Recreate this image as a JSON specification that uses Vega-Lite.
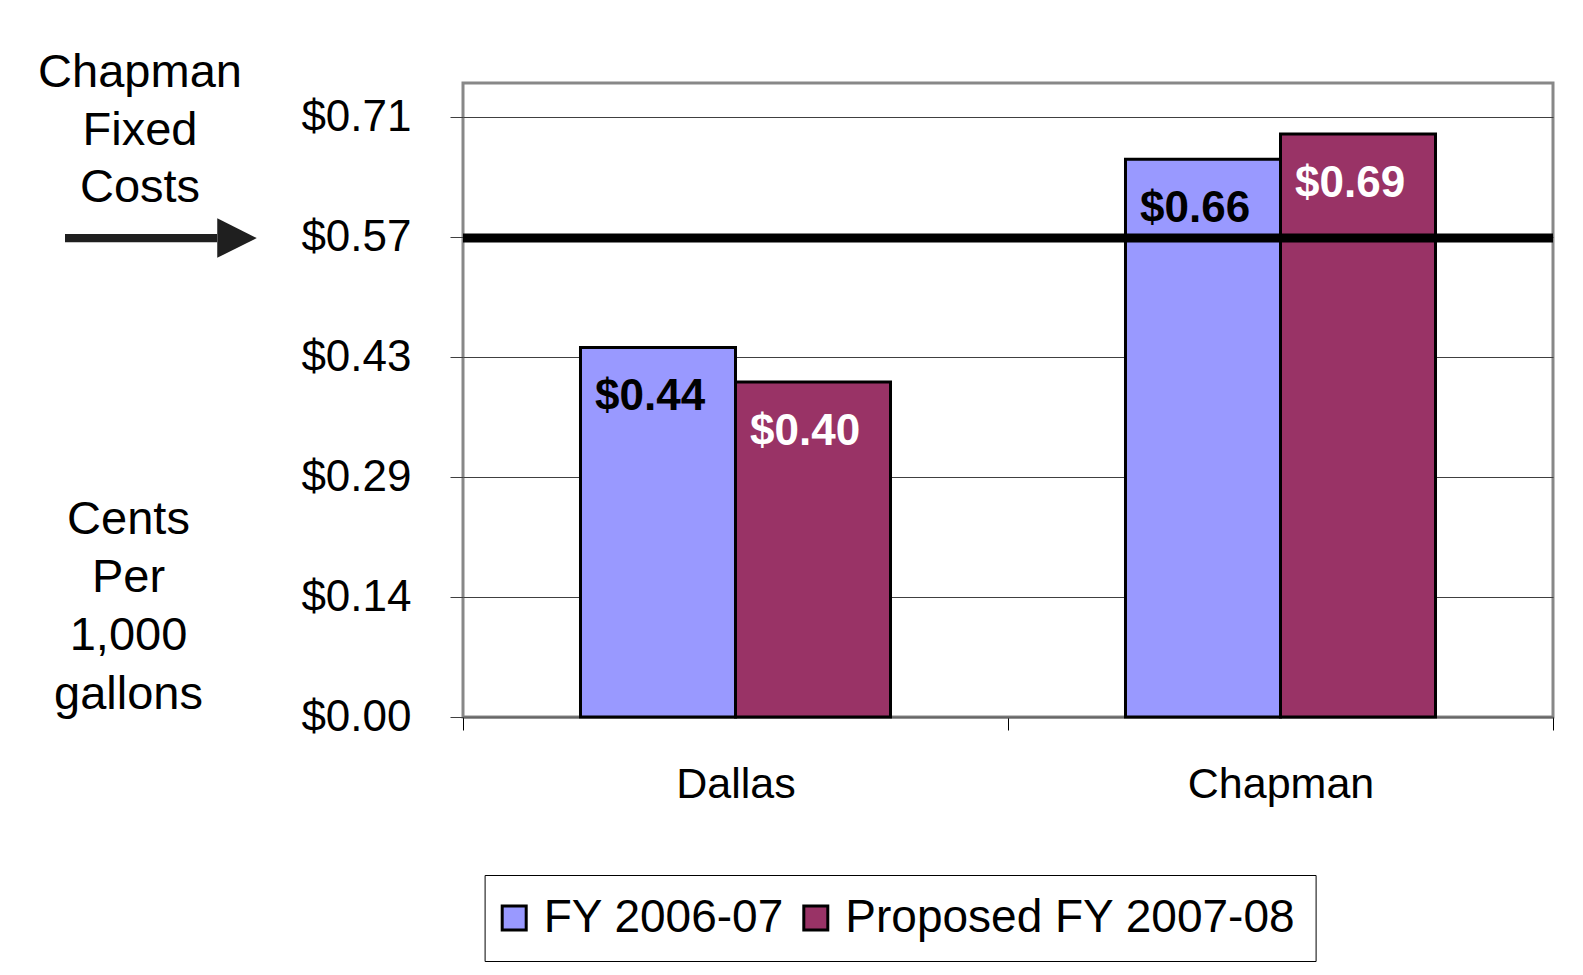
{
  "$schema": "https://vega.github.io/schema/vega-lite/v6.json",
  "background": "white",
  "padding": {"left": 0, "top": 49, "right": 28, "bottom": 10},
  "autosize": {"type": "pad"},
  "bounds": "flush",
  "spacing": 0,
  "config": {"font": "Liberation Sans", "view": {"stroke": null}},
  "datasets": {
    "costs": [
      {"city": "Dallas", "series": "FY 2006-07", "value": 0.439},
      {"city": "Dallas", "series": "Proposed FY 2007-08", "value": 0.398},
      {"city": "Chapman", "series": "FY 2006-07", "value": 0.6626},
      {"city": "Chapman", "series": "Proposed FY 2007-08", "value": 0.6927}
    ]
  },
  "hconcat": [
    {
      "width": 463,
      "height": 634,
      "view": {"fill": "white", "stroke": null},
      "data": {"values": [{"value": 0.569}]},
      "encoding": {
        "y": {"field": "value", "type": "quantitative", "scale": {"domain": [0, 0.7532], "nice": false}, "axis": null}
      },
      "layer": [
        {
          "mark": {"type": "rule", "color": "#1f1f1f", "strokeWidth": 8.3},
          "encoding": {
            "x": {"datum": 0.1404, "type": "quantitative", "scale": {"domain": [0, 1], "nice": false}, "axis": null},
            "x2": {"datum": 0.4687}
          }
        },
        {
          "mark": {"type": "point", "shape": "M-1,-1L1,0L-1,1Z", "size": 1560, "filled": true, "color": "#1f1f1f", "opacity": 1},
          "encoding": {"x": {"datum": 0.5119, "type": "quantitative"}}
        },
        {
          "mark": {"type": "text", "text": ["Chapman", "Fixed", "Costs"], "fontSize": 47, "lineHeight": 57.3, "align": "center", "baseline": "alphabetic", "color": "black"},
          "encoding": {
            "x": {"datum": 0.3024, "type": "quantitative"},
            "y": {"datum": 0.7481, "type": "quantitative"}
          }
        }
      ]
    },
    {
      "width": 1090,
      "height": 634,
      "view": {"stroke": "#888888", "strokeWidth": 3},
      "data": {"name": "costs"},
      "layer": [
        {
          "mark": {"type": "bar", "stroke": "black", "strokeWidth": 3},
          "encoding": {
            "x": {
              "field": "city", "type": "nominal",
              "scale": {"domain": ["Dallas", "Chapman"], "paddingInner": 0, "paddingOuter": 0},
              "axis": {
                "title": null, "labelAngle": 0, "labelFontSize": 43, "labelColor": "black",
                "labelPadding": 67, "labelBaseline": "alphabetic", "labelLimit": 500,
                "tickSize": 13, "tickBand": "extent", "tickColor": "black",
                "domainColor": "#666666", "domainWidth": 2
              }
            },
            "xOffset": {"field": "series", "type": "nominal", "scale": {"paddingInner": 0, "paddingOuter": 0.758}},
            "y": {
              "field": "value", "type": "quantitative",
              "scale": {"domain": [0, 0.7532], "nice": false},
              "axis": {
                "values": [0, 0.1425, 0.2851, 0.4275, 0.57, 0.7125],
                "format": "$.2f",
                "grid": true, "gridColor": "#404040", "gridWidth": 1,
                "domain": false, "tickSize": 13, "tickColor": "#404040",
                "labelFontSize": 44, "labelColor": "black", "labelPadding": 39,
                "title": ["Cents", "Per", "1,000", "gallons"],
                "titleAngle": 0, "titleFontSize": 47, "titleFontWeight": "normal",
                "titleAlign": "center", "titleBaseline": "alphabetic",
                "titleX": -335, "titleY": 450.3, "titleLineHeight": 58.3, "titleColor": "black"
              }
            },
            "fill": {
              "field": "series", "type": "nominal",
              "scale": {"domain": ["FY 2006-07", "Proposed FY 2007-08"], "range": ["#9999FF", "#993366"]},
              "legend": {
                "orient": "none", "legendX": 484.6, "legendY": 792, "direction": "horizontal",
                "title": null, "fillColor": "white", "strokeColor": "black", "padding": 20,
                "cornerRadius": 0, "symbolType": "square", "symbolSize": 576,
                "symbolStrokeColor": "black", "symbolStrokeWidth": 3, "symbolOpacity": 1,
                "symbolOffset": -13.4,
                "labelFontSize": 46, "labelColor": "black", "labelOffset": 6.5,
                "columnPadding": 12.6, "labelLimit": 800
              }
            }
          }
        },
        {
          "data": {"values": [{"value": 0.569}]},
          "mark": {"type": "rule", "color": "black", "strokeWidth": 9},
          "encoding": {"y": {"field": "value", "type": "quantitative"}}
        },
        {
          "mark": {"type": "text", "align": "left", "baseline": "alphabetic", "dx": -63, "dy": 63, "fontSize": 44, "fontWeight": "bold"},
          "encoding": {
            "x": {"field": "city", "type": "nominal"},
            "xOffset": {"field": "series", "type": "nominal"},
            "y": {"field": "value", "type": "quantitative"},
            "text": {"field": "value", "type": "quantitative", "format": "$.2f"},
            "color": {"condition": {"test": "datum.series === 'FY 2006-07'", "value": "black"}, "value": "white"}
          }
        }
      ]
    }
  ]
}
